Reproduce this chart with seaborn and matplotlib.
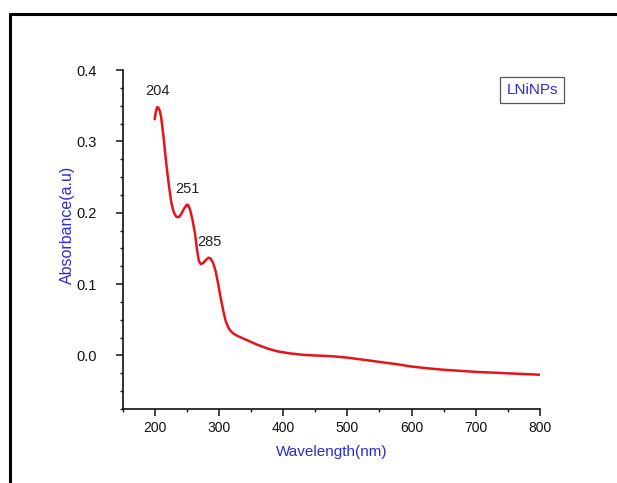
import numpy as np
import pandas as pd
import matplotlib
matplotlib.use("Agg")
import matplotlib.pyplot as plt
from matplotlib.lines import Line2D
from matplotlib.ticker import MultipleLocator
import seaborn as sns

# UV-Vis absorbance spectrum of the LNiNPs sample
wavelength_nm = [200, 202, 204, 206, 208, 210, 214, 218, 222, 226, 230, 234, 238,
                 242, 246, 250, 252, 255, 259, 263, 266, 269, 272, 276, 280, 284,
                 287, 291, 295, 299, 303, 307, 311, 316, 322, 330, 340, 350, 360,
                 375, 390, 410, 430, 450, 475, 500, 525, 550, 575, 600, 625, 650,
                 675, 700, 750, 800]
absorbance = [0.331, 0.342, 0.348, 0.347, 0.343, 0.335, 0.305, 0.270, 0.240, 0.214,
              0.200, 0.194, 0.194, 0.199, 0.206, 0.211, 0.211, 0.205, 0.190, 0.170,
              0.148, 0.132, 0.128, 0.130, 0.134, 0.137, 0.136, 0.130, 0.118, 0.100,
              0.080, 0.062, 0.047, 0.037, 0.031, 0.027, 0.023, 0.019, 0.015, 0.010,
              0.006, 0.003, 0.001, 0.000, -0.001, -0.003, -0.006, -0.009, -0.012,
              -0.0155, -0.018, -0.020, -0.0215, -0.023, -0.025, -0.027]

# labelled absorption maxima
peak_wavelengths = [204, 251, 285]
peak_absorbance = [0.348, 0.211, 0.137]

sample_label = "LNiNPs"
x_label = "Wavelength(nm)"
y_label = "Absorbance(a.u)"

sns.set_theme(style="ticks")
plt.rcParams["font.family"] = ["Liberation Sans", "DejaVu Sans"]

df = pd.DataFrame({"wavelength": wavelength_nm, "absorbance": absorbance})

fig = plt.figure(figsize=(6.17, 4.83), dpi=100)
fig.patch.set_facecolor("white")
ax = fig.add_axes([122.5 / 617, 1 - 409 / 483, (540 - 122.5) / 617, (409 - 70) / 483])

sns.lineplot(data=df, x="wavelength", y="absorbance", ax=ax,
             color="#e5141b", linewidth=1.8, sort=False)

ax.set_xlim(150, 800)
ax.set_ylim(-0.075, 0.4)
ax.xaxis.set_minor_locator(MultipleLocator(50))
ax.yaxis.set_minor_locator(MultipleLocator(0.025))
ax.set_xticks(range(200, 801, 100))
ax.set_yticks([0.0, 0.1, 0.2, 0.3, 0.4])
ax.set_yticklabels(["0.0", "0.1", "0.2", "0.3", "0.4"])

sns.despine(ax=ax)
for side in ("left", "bottom"):
    ax.spines[side].set_linewidth(1.2)
    ax.spines[side].set_color("#111111")

ax.tick_params(axis="both", which="major", direction="out", length=5, width=1.1,
               colors="#111111", pad=4)
ax.tick_params(axis="both", which="minor", direction="out", length=2.5, width=1.0,
               colors="#111111")
ax.tick_params(axis="x", which="major", labelsize=10)
ax.tick_params(axis="y", which="major", labelsize=10.5, pad=28)
for lab in ax.get_yticklabels():
    lab.set_horizontalalignment("left")

ax.set_xlabel(x_label, color="#2b2bd6", fontsize=11, labelpad=7)
ax.set_ylabel(y_label, color="#2b2bd6", fontsize=11.5)
ax.yaxis.set_label_coords(-0.114, 0.543)

for wl, ab in zip(peak_wavelengths, peak_absorbance):
    ax.annotate(str(wl), xy=(wl, ab), xytext=(0, 6.5), textcoords="offset points",
                ha="center", va="bottom", fontsize=10.5, color="#222222")

ax.text(0.981, 0.941, sample_label, transform=ax.transAxes, ha="center", va="center",
        fontsize=11, color="#2b2bd6",
        bbox=dict(boxstyle="square,pad=0.4", facecolor="white",
                  edgecolor="#555555", linewidth=0.9))

# outer frame running off the right and bottom edges
fw, fh = 617, 483
fig.add_artist(Line2D([10 / fw, 1.0], [1 - 14 / fh, 1 - 14 / fh],
                      transform=fig.transFigure, color="black", linewidth=2.2))
fig.add_artist(Line2D([10 / fw, 10 / fw], [1 - 14 / fh, 0.0],
                      transform=fig.transFigure, color="black", linewidth=2.2))

fig.savefig("out.png", dpi=100, facecolor="white")
